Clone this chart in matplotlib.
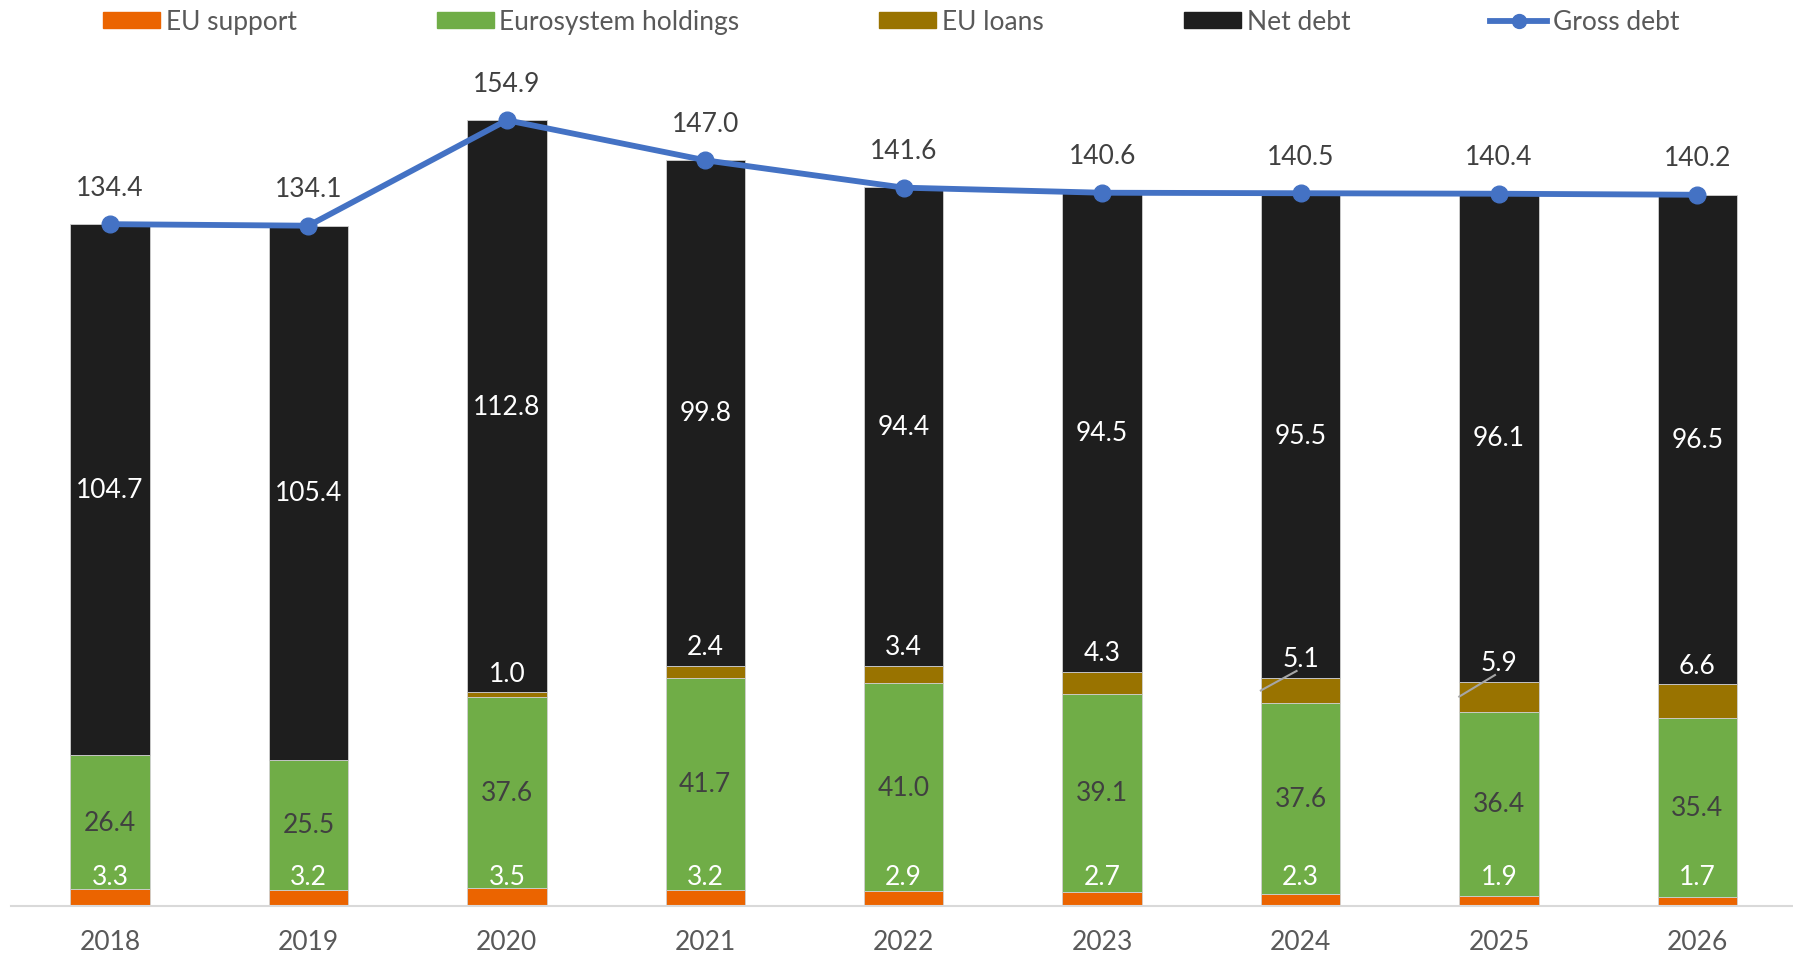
import numpy as np
import matplotlib.pyplot as plt
from matplotlib.patches import Patch
from matplotlib.lines import Line2D

plt.rcParams['font.family'] = ['Lato', 'DejaVu Sans']

# --- data (% of GDP) ---
years = ['2018', '2019', '2020', '2021', '2022', '2023', '2024', '2025', '2026']
eu_support = [3.3, 3.2, 3.5, 3.2, 2.9, 2.7, 2.3, 1.9, 1.7]
eurosystem = [26.4, 25.5, 37.6, 41.7, 41.0, 39.1, 37.6, 36.4, 35.4]
eu_loans = [0.0, 0.0, 1.0, 2.4, 3.4, 4.3, 5.1, 5.9, 6.6]
net_debt = [104.7, 105.4, 112.8, 99.8, 94.4, 94.5, 95.5, 96.1, 96.5]
gross_debt = [134.4, 134.1, 154.9, 147.0, 141.6, 140.6, 140.5, 140.4, 140.2]
leader_years = ['2024', '2025']

c_support = '#EB6400'
c_euro = '#70AD47'
c_loans = '#997300'
c_net = '#1E1E1E'
c_gross = '#4472C4'
c_text = '#595959'
c_dark = '#404040'

fig = plt.figure(figsize=(17.93, 9.54), dpi=100)
ax = fig.add_axes([0.006, 0.0495, 0.996, 0.9505])

x = np.arange(len(years))
w = 0.40
sup = np.array(eu_support)
eur = np.array(eurosystem)
loa = np.array(eu_loans)
net = np.array(net_debt)

edge = dict(edgecolor='#d0d0d0', linewidth=0.6)
ax.bar(x, sup, w, color=c_support, **edge)
ax.bar(x, eur, w, bottom=sup, color=c_euro, **edge)
ax.bar(x, loa, w, bottom=sup + eur, color=c_loans, **edge)
ax.bar(x, net, w, bottom=sup + eur + loa, color=c_net, **edge)
ax.plot(x, gross_debt, color=c_gross, lw=4.2, marker='o', ms=12, zorder=5)

fs = 19
for i in range(len(years)):
    # EU support value sits just above the thin orange segment
    ax.annotate(f'{sup[i]:.1f}', (x[i], 0), xytext=(0, 29), textcoords='offset pixels',
                ha='center', va='center', color='white', fontsize=fs)
    ax.text(x[i], sup[i] + eur[i] / 2, f'{eur[i]:.1f}', ha='center', va='center',
            color=c_dark, fontsize=fs)
    top_loans = sup[i] + eur[i] + loa[i]
    if loa[i] > 0:
        ax.annotate(f'{loa[i]:.1f}', (x[i], top_loans), xytext=(0, 19),
                    textcoords='offset pixels', ha='center', va='center',
                    color='white', fontsize=fs)
        if years[i] in leader_years:
            ax.plot([x[i] - w / 2, x[i] - 0.02],
                    [top_loans - loa[i] / 2, top_loans + 1.3],
                    color='#A6A6A6', lw=1.5, zorder=4)
    ax.text(x[i], top_loans + net[i] / 2, f'{net[i]:.1f}', ha='center', va='center',
            color='white', fontsize=fs)
    ax.annotate(f'{gross_debt[i]:.1f}', (x[i], gross_debt[i]), xytext=(0, 37),
                textcoords='offset pixels', ha='center', va='center',
                color=c_dark, fontsize=fs)

ax.set_xlim(-0.5, 8.5)
ax.set_ylim(0, 178.8)
ax.set_xticks(x)
ax.set_xticklabels(years, fontsize=fs, color=c_text)
ax.tick_params(axis='x', length=0, pad=17)
ax.set_yticks([])
for s in ['top', 'right', 'left']:
    ax.spines[s].set_visible(False)
ax.spines['bottom'].set_color('#D9D9D9')
ax.spines['bottom'].set_linewidth(1.5)

handles = [
    Patch(color=c_support, label='EU support'),
    Patch(color=c_euro, label='Eurosystem holdings'),
    Patch(color=c_loans, label='EU loans'),
    Patch(color=c_net, label='Net debt'),
    Line2D([0], [0], color=c_gross, lw=4.2, marker='o', ms=10, label='Gross debt'),
]
fig.legend(handles=handles, loc='center left', bbox_to_anchor=(0.0574, 0.976),
           ncol=5, frameon=False, fontsize=fs, labelcolor=c_text,
           handlelength=2.16, handleheight=0.6, handletextpad=0.22,
           columnspacing=5.3, borderpad=0, borderaxespad=0)

fig.savefig('out.png', dpi=100)
